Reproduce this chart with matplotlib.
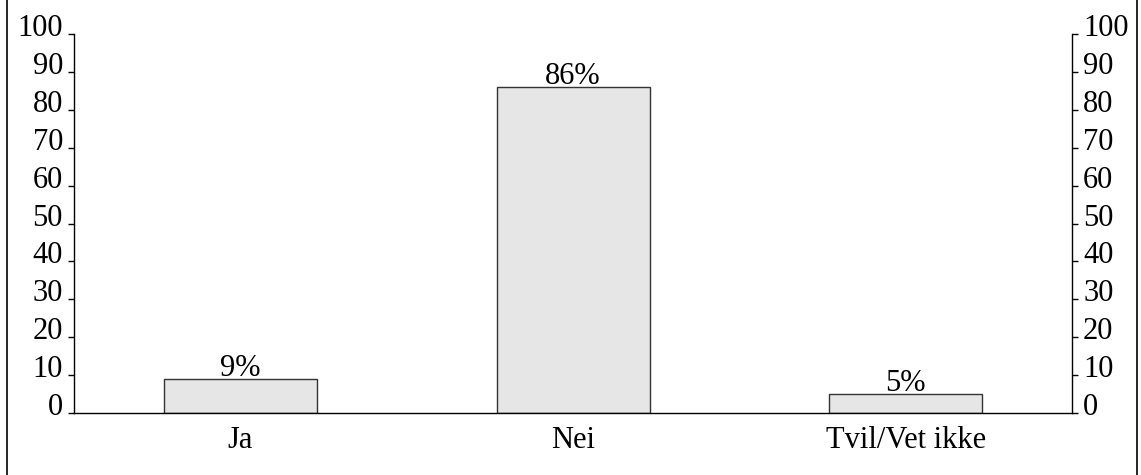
import matplotlib.pyplot as plt
from matplotlib.patches import Rectangle
from matplotlib.transforms import ScaledTranslation

categories = ['Ja', 'Nei', 'Tvil/Vet ikke']
values = [9, 86, 5]
yticks = [0, 10, 20, 30, 40, 50, 60, 70, 80, 90, 100]

plt.rcParams['font.family'] = 'Liberation Serif'
plt.rcParams['font.size'] = 22

fig = plt.figure(figsize=(11.41, 4.75), dpi=100)
ax = fig.add_axes([0.0649, 0.1305, 0.8746, 0.7979])

# outer frame round the whole chart
fig.patches.append(Rectangle((7 / 1141, -0.05), 1130 / 1141, 1.1,
                             transform=fig.transFigure, fill=False,
                             edgecolor='black', linewidth=1.2))

x = range(len(categories))
bars = ax.bar(x, values, width=0.46, color='#e6e6e6', edgecolor='#333333', linewidth=1)
for rect, v in zip(bars, values):
    ax.text(rect.get_x() + rect.get_width() / 2, v + 0.8, f'{v}%',
            ha='center', va='baseline')

ax.set_xlim(-0.5, 2.5)
ax.set_ylim(0, 100)
ax.set_xticks(list(x))
ax.set_xticklabels(categories)
ax.tick_params(axis='x', length=0, pad=9)
ax.set_yticks(yticks)
ax.tick_params(axis='y', direction='out', length=4, width=1, pad=4,
               left=True, right=True, labelleft=True, labelright=True)
ax.tick_params(axis='y', which='major', pad=4)

# numbers sit on their tick rather than centred on it
shift = ScaledTranslation(0, -1.5 / 72, fig.dpi_scale_trans)
for t in ax.yaxis.get_major_ticks():
    for lab in (t.label1, t.label2):
        lab.set_verticalalignment('baseline')
        lab.set_transform(lab.get_transform() + shift)
ax.spines['top'].set_visible(False)
for s in ['left', 'right', 'bottom']:
    ax.spines[s].set_linewidth(1)

plt.savefig('out.png', dpi=100)
